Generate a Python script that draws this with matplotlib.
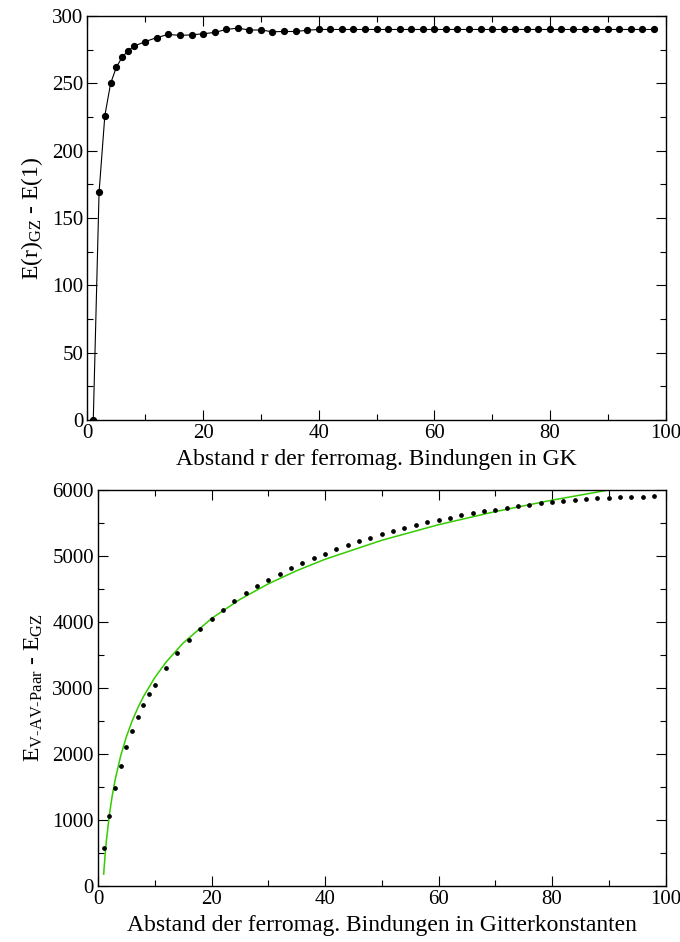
import matplotlib
matplotlib.use("Agg")
import matplotlib.pyplot as plt
from matplotlib.ticker import MultipleLocator

plt.rcParams["font.family"] = ["Liberation Serif", "DejaVu Serif"]
plt.rcParams["mathtext.fontset"] = "custom"
plt.rcParams["mathtext.rm"] = "Liberation Serif"
plt.rcParams["mathtext.it"] = "Liberation Serif:italic"

# top panel: ground-state energy vs. bond distance
r_top = [1, 2, 3, 4, 5, 6, 7, 8] + list(range(10, 99, 2))
e_top = [0, 169, 226, 250, 262, 269.5, 274, 277.5,
         281, 284, 286.3, 285.6, 286, 286.8, 287.8, 290, 291, 289.6,
         289.6, 288.3, 288.5, 288.5, 289.4, 290, 290, 290, 290, 290,
         290, 290, 290, 290, 290, 290, 290, 290, 290, 290, 290, 290,
         290, 290, 290, 290, 290, 290, 290, 290, 290, 290, 290, 290, 290]

# bottom panel: V-AV pair energy
r_bot = list(range(1, 11)) + list(range(12, 99, 2))
e_bot = [580, 1065, 1485, 1823, 2106, 2348, 2556, 2738, 2904, 3050,
         3308, 3535, 3722, 3899, 4050, 4187, 4318, 4434, 4540, 4641,
         4732, 4813, 4894, 4970, 5035, 5101, 5162, 5223, 5275, 5328,
         5379, 5419, 5465, 5510, 5545, 5580, 5616, 5647, 5677, 5702,
         5732, 5762, 5777, 5798, 5813, 5833, 5848, 5859, 5874, 5884,
         5889, 5894, 5899, 5909]

# green fit curve
r_fit = [1, 1.25, 1.5, 2, 2.5, 3, 4, 5, 6, 7, 8, 10, 12, 15, 20, 25, 30,
         35, 40, 50, 60, 70, 80, 90, 92]
e_fit = [180, 470, 704, 1076, 1365, 1600, 1973, 2261, 2497, 2696, 2869,
         3157, 3393, 3681, 4053, 4342, 4578, 4777, 4950, 5238, 5474, 5673,
         5846, 6000, 6027]

W, H = 680, 942
fig = plt.figure(figsize=(W / 100, H / 100), dpi=100)


def frac(l, t, r, b):
    return [l / W, 1 - b / H, (r - l) / W, (b - t) / H]


def style(ax):
    ax.tick_params(which="both", direction="in", top=True, right=True,
                   labelsize=15, width=0.8, pad=3)
    ax.tick_params(which="major", length=7.5)
    ax.tick_params(which="minor", length=4.3)
    for s in ax.spines.values():
        s.set_linewidth(1.0)


ax1 = fig.add_axes(frac(87.5, 16, 665.5, 420))
ax1.plot(r_top, e_top, color="black", lw=0.8, marker="o", ms=4.2)
ax1.set_xlim(0, 100)
ax1.set_ylim(0, 300)
ax1.xaxis.set_major_locator(MultipleLocator(20))
ax1.xaxis.set_minor_locator(MultipleLocator(10))
ax1.yaxis.set_major_locator(MultipleLocator(50))
ax1.yaxis.set_minor_locator(MultipleLocator(25))
style(ax1)
ax1.set_xlabel("Abstand r der ferromag. Bindungen in GK", fontsize=17,
               labelpad=4)
ax1.set_ylabel(r"E(r)$_{\mathrm{GZ}}$ - E(1)", fontsize=17, labelpad=5)

ax2 = fig.add_axes(frac(98, 490, 665.5, 886))
ax2.plot(r_fit, e_fit, color="#33cc00", lw=1.1)
ax2.plot(r_bot, e_bot, ls="none", color="black", marker="o", ms=2.4)
ax2.set_xlim(0, 100)
ax2.set_ylim(0, 6000)
ax2.xaxis.set_major_locator(MultipleLocator(20))
ax2.xaxis.set_minor_locator(MultipleLocator(10))
ax2.yaxis.set_major_locator(MultipleLocator(1000))
ax2.yaxis.set_minor_locator(MultipleLocator(500))
style(ax2)
ax2.set_xlabel("Abstand der ferromag. Bindungen in Gitterkonstanten",
               fontsize=17, labelpad=4)
ax2.set_ylabel(r"E$_{\mathrm{V\text{-}AV\text{-}Paar}}$ - E$_{\mathrm{GZ}}$",
               fontsize=17, labelpad=5)

fig.savefig("out.png", dpi=100)
